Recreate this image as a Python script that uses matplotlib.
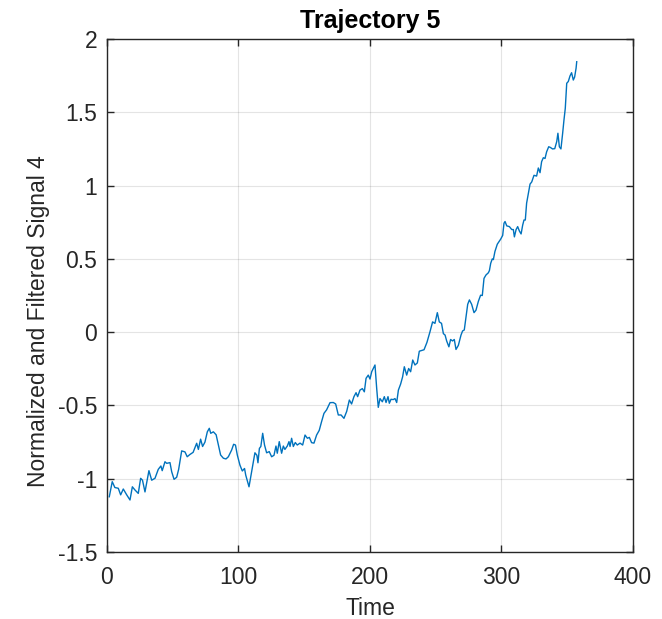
import matplotlib
matplotlib.use("Agg")
import matplotlib.pyplot as plt

# Time samples and normalized/filtered signal values
time = [1.75, 4, 6, 8.6, 10.4, 12.4, 15, 17.5, 19.3, 21.3, 23.8, 25.6, 27, 28.9,
        31.9, 34, 36.5, 39, 41, 42, 44.1, 45.4, 47.9, 49.2, 51, 53, 54.5, 56.8,
        59.3, 61, 63, 65.5, 68.2, 69.5, 71.2, 72.7, 74.5, 76.3, 77.8, 78.9, 80.9,
        83, 84.7, 86.4, 88.5, 90.5, 92.3, 94.8, 96.3, 97.7, 99.1, 101.1, 102.9,
        104.6, 105.5, 108, 110, 112.5, 114, 114.8, 115.9, 117, 118.4, 119.8,
        121.4, 123.4, 125.2, 127, 128.5, 129.5, 131, 132.8, 134.1, 135.3, 137.1,
        138.4, 139.2, 140.4, 141.7, 143.2, 144.7, 146.8, 148.8, 150.6, 152.4,
        153.9, 155.6, 157.4, 159.4, 161.4, 163.2, 165, 167, 169.6, 172.1, 173.9,
        175.9, 178, 180.2, 182.3, 184.3, 186, 187.8, 189.4, 190.6, 192.4, 194.2,
        195.7, 197, 198.7, 200, 201.3, 203.8, 205.1, 206.3, 207.6, 209.4, 210.9,
        212.2, 213.7, 214.7, 216, 217.7, 219, 220.3, 221.6, 223.3, 224.8, 226.1,
        227.9, 229.4, 230.9, 232.5, 234.2, 236, 237.5, 239.3, 241.1, 243.3,
        245.6, 247.6, 249.4, 251.2, 252.7, 254.4, 255.8, 257.1, 258.3, 260,
        261.3, 262.8, 264.1, 265.4, 267.2, 269.2, 270.4, 271.7, 273, 274.3,
        275.6, 277.3, 279.1, 280.6, 282.4, 284.1, 285.4, 286.7, 288.2, 290,
        290.8, 291.8, 293, 293.8, 295, 296.8, 298.3, 299.4, 300.9, 301.9, 302.7,
        304, 306, 307.8, 309, 309.8, 311.1, 312.3, 313.6, 314.9, 316.1, 317.1,
        318.1, 319.1, 320.4, 321.7, 323, 324.7, 326.7, 328, 329.3, 330.5, 331.8,
        333.1, 334.3, 335.9, 337.2, 338.8, 340.5, 342, 342.9, 344, 345.2, 346.5,
        347.5, 348.5, 349.6, 350.8, 352.1, 353.3, 354.6, 355.6, 356.7, 357.2]
signal = [-1.123, -1.02, -1.06, -1.065, -1.11, -1.07, -1.11, -1.145, -1.055,
          -1.077, -1.1, -0.997, -1.01, -1.09, -0.945, -1.01, -0.997, -0.936,
          -0.913, -0.945, -0.884, -0.895, -0.89, -0.952, -1.004, -0.99, -0.936,
          -0.81, -0.817, -0.85, -0.835, -0.82, -0.758, -0.8, -0.73, -0.78, -0.75,
          -0.68, -0.656, -0.69, -0.68, -0.7, -0.77, -0.838, -0.86, -0.865, -0.85,
          -0.804, -0.765, -0.77, -0.838, -0.907, -0.947, -0.93, -0.975, -1.055,
          -0.952, -0.823, -0.84, -0.891, -0.793, -0.78, -0.69, -0.77, -0.823,
          -0.815, -0.85, -0.84, -0.777, -0.826, -0.747, -0.826, -0.777, -0.8,
          -0.777, -0.747, -0.78, -0.724, -0.78, -0.753, -0.77, -0.757, -0.77,
          -0.702, -0.724, -0.718, -0.754, -0.757, -0.702, -0.67, -0.61, -0.554,
          -0.53, -0.481, -0.48, -0.49, -0.565, -0.565, -0.588, -0.54, -0.463,
          -0.49, -0.44, -0.413, -0.44, -0.395, -0.385, -0.407, -0.315, -0.293,
          -0.32, -0.27, -0.224, -0.385, -0.513, -0.453, -0.475, -0.44, -0.48,
          -0.44, -0.485, -0.458, -0.46, -0.453, -0.48, -0.395, -0.354, -0.305,
          -0.236, -0.293, -0.248, -0.27, -0.19, -0.224, -0.21, -0.13, -0.125,
          -0.12, -0.07, 0.002, 0.07, 0.06, 0.133, 0.07, 0.06, -0.01, -0.02, -0.06,
          -0.1, -0.05, -0.06, -0.05, -0.118, -0.09, -0.02, 0.008, 0.015, 0.105,
          0.19, 0.22, 0.19, 0.133, 0.15, 0.21, 0.252, 0.25, 0.367, 0.39, 0.405,
          0.42, 0.47, 0.50, 0.495, 0.55, 0.60, 0.62, 0.635, 0.66, 0.743, 0.755,
          0.725, 0.72, 0.70, 0.70, 0.65, 0.70, 0.72, 0.69, 0.67, 0.73, 0.765,
          0.765, 0.88, 0.947, 1.01, 1.025, 1.07, 1.065, 1.12, 1.088, 1.163, 1.19,
          1.185, 1.23, 1.265, 1.26, 1.25, 1.252, 1.30, 1.357, 1.265, 1.25, 1.357,
          1.447, 1.527, 1.698, 1.71, 1.748, 1.77, 1.72, 1.74, 1.80, 1.845]

x_ticks = [0, 100, 200, 300, 400]
y_ticks = [-1.5, -1, -0.5, 0, 0.5, 1, 1.5, 2]
y_tick_labels = ["-1.5", "-1", "-0.5", "0", "0.5", "1", "1.5", "2"]

plt.rcParams["font.family"] = ["Liberation Sans", "DejaVu Sans"]

fig = plt.figure(figsize=(6.62, 6.19), dpi=100)
ax = fig.add_axes([0.1616, 0.1082, 0.7946, 0.8288])

ax.plot(time, signal, color="#0072BD", linewidth=1.0)

ax.set_xlim(0, 400)
ax.set_ylim(-1.5, 2)
ax.set_xticks(x_ticks)
ax.set_xticklabels([str(t) for t in x_ticks])
ax.set_yticks(y_ticks)
ax.set_yticklabels(y_tick_labels)

ax.grid(True, color="#262626", alpha=0.12, linewidth=0.8)
ax.set_axisbelow(True)

for spine in ax.spines.values():
    spine.set_color("#262626")
    spine.set_linewidth(1.0)

ax.tick_params(direction="in", length=5, width=1.0, colors="#262626",
               labelsize=16.5, top=True, right=True)
ax.tick_params(axis="x", pad=10)
ax.tick_params(axis="y", pad=7)

ax.set_xlabel("Time", fontsize=16.5, color="#262626", labelpad=6)
ax.set_ylabel("Normalized and Filtered Signal 4", fontsize=16.5,
              color="#262626")
ax.yaxis.set_label_coords(-0.108, 0.45)
ax.set_title("Trajectory 5", fontsize=18, fontweight="bold", pad=8)

fig.savefig("out.png", dpi=100)
